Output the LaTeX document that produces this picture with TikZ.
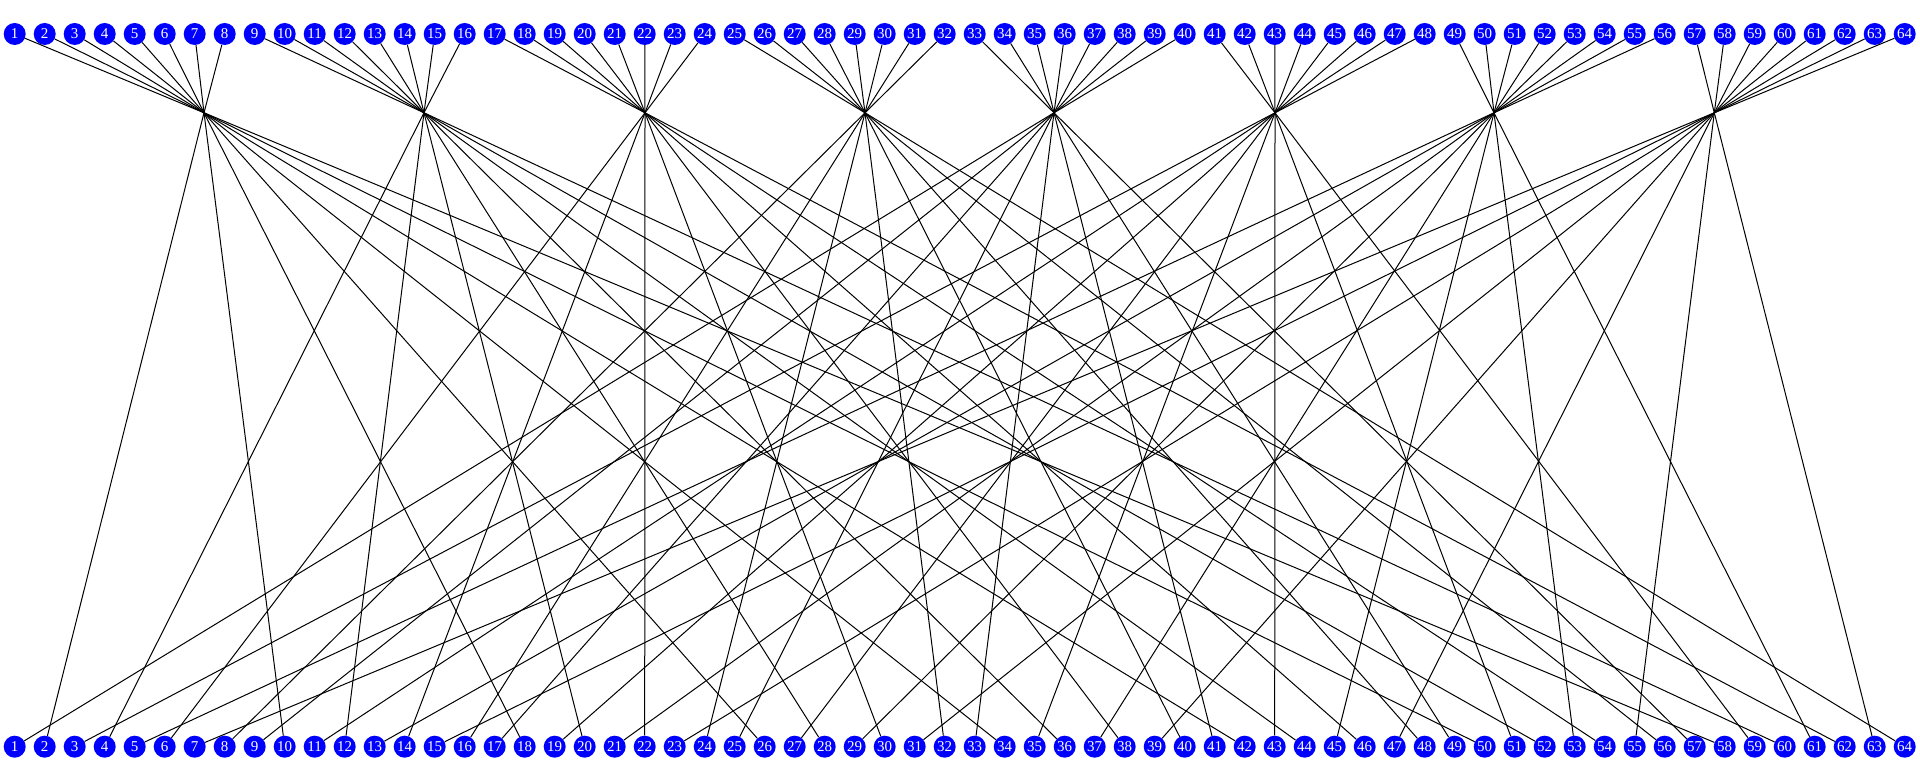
\documentclass[tikz,border=0pt]{standalone}
\usepackage{fontspec}
\setmainfont{Liberation Serif}
\begin{document}
\begin{tikzpicture}[x=1pt,y=1pt,
  vtx/.style={circle, fill=blue, text=white, minimum size=22pt, inner sep=0pt, font=\fontsize{15}{15}\selectfont},
  edge/.style={line width=1pt, black}]
\useasboundingbox (0,0) rectangle (1920,762);
\foreach \i in {1,...,64} {
  \pgfmathsetmacro\xx{14.7+30*(\i-1)}
  \node[vtx] (t\i) at (\xx,728) {\i};
  \node[vtx] (b\i) at (\xx,15.3) {\i};
}
\foreach \k/\hx in {1/204,2/424,3/645,4/865,5/1054,6/1275,7/1494,8/1714.3} {
  \coordinate (h\k) at (\hx,649.2);
}
\foreach \i in {1,...,64} {
  \pgfmathtruncatemacro\h{div(\i-1,8)+1}
  \draw[edge] (t\i) -- (h\h);
}
\foreach \k in {1,...,4} {
  \foreach \j in {0,...,7} {
    \pgfmathtruncatemacro\n{2*\k+8*\j}
    \draw[edge] (h\k) -- (b\n);
  }
}
\foreach \k in {5,...,8} {
  \foreach \j in {0,...,7} {
    \pgfmathtruncatemacro\n{2*(\k-4)-1+8*\j}
    \draw[edge] (h\k) -- (b\n);
  }
}
\end{tikzpicture}
\end{document}
